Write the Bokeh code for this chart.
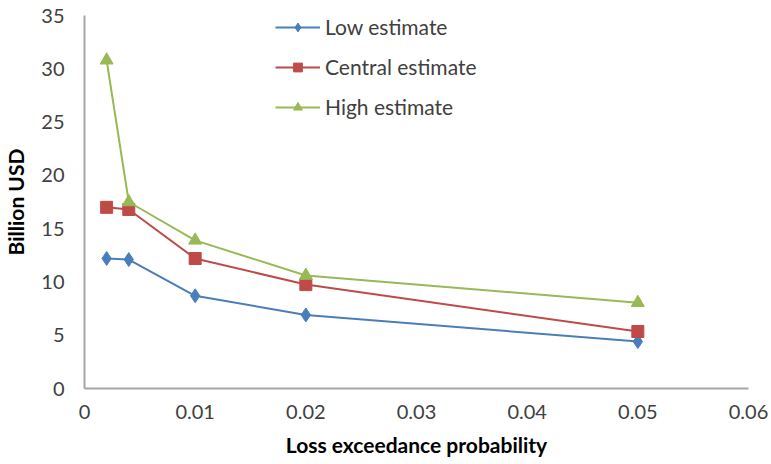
from bokeh.plotting import figure
from bokeh.models import Range1d, FixedTicker, Legend, LegendItem
from bokeh.embed import file_html
from bokeh.resources import INLINE

x_vals = [0.002, 0.004, 0.01, 0.02, 0.05]
low = [12.2, 12.1, 8.7, 6.9, 4.4]
central = [17.0, 16.8, 12.2, 9.75, 5.35]
high = [30.8, 17.5, 13.9, 10.6, 8.05]
series_names = ["Low estimate", "Central estimate", "High estimate"]
x_ticks = [0, 0.01, 0.02, 0.03, 0.04, 0.05, 0.06]
x_tick_labels = ["0", "0.01", "0.02", "0.03", "0.04", "0.05", "0.06"]
y_ticks = [0, 5, 10, 15, 20, 25, 30, 35]

BLUE = "#4A7EBB"
RED = "#BE4B48"
GREEN = "#98B954"
AXIS = "#A6A6A6"
TXT = "#404040"
FONT = "Lato"

p = figure(width=771, height=464, output_backend="svg", toolbar_location=None,
           x_range=Range1d(0, 0.06), y_range=Range1d(0, 35),
           min_border_left=83, min_border_right=23, min_border_top=15, min_border_bottom=76)
p.outline_line_color = None
p.xgrid.grid_line_color = None
p.ygrid.grid_line_color = None

l1 = p.line(x_vals, low, line_color=BLUE, line_width=2)
m1 = p.scatter(x_vals, low, marker="diamond", size=14, fill_color=BLUE, line_color=BLUE)
l2 = p.line(x_vals, central, line_color=RED, line_width=2)
m2 = p.scatter(x_vals, central, marker="square", size=12, fill_color=RED, line_color=RED)
l3 = p.line(x_vals, high, line_color=GREEN, line_width=2)
m3 = p.scatter(x_vals, high, marker="triangle", size=13, fill_color=GREEN, line_color=GREEN)

p.xaxis.ticker = FixedTicker(ticks=x_ticks)
p.xaxis.major_label_overrides = {t: s for t, s in zip(x_ticks, x_tick_labels)}
p.yaxis.ticker = FixedTicker(ticks=y_ticks)
for ax in (p.xaxis[0], p.yaxis[0]):
    ax.axis_line_color = AXIS
    ax.axis_line_width = 2
    ax.major_tick_line_color = None
    ax.minor_tick_line_color = None
    ax.major_label_text_font = FONT
    ax.major_label_text_font_size = "20px"
    ax.major_label_text_color = TXT
    ax.axis_label_text_font = FONT
    ax.axis_label_text_font_style = "bold"
    ax.axis_label_text_font_size = "21px"
    ax.axis_label_text_color = "#000000"
p.xaxis.major_label_standoff = 10
p.yaxis.major_label_standoff = 14
p.xaxis.axis_label = "Loss exceedance probability"
p.yaxis.axis_label = "Billion USD"
p.xaxis.axis_label_standoff = 10
p.yaxis.axis_label_standoff = 10

legend = Legend(items=[
    LegendItem(label=series_names[0], renderers=[l1, m1]),
    LegendItem(label=series_names[1], renderers=[l2, m2]),
    LegendItem(label=series_names[2], renderers=[l3, m3]),
], location=(191, 269))
legend.border_line_color = None
legend.background_fill_alpha = 0
legend.padding = 0
legend.margin = 0
legend.spacing = 15
legend.glyph_width = 45
legend.glyph_height = 22
legend.label_text_font = FONT
legend.label_text_font_size = "21px"
legend.label_text_color = TXT
legend.label_standoff = 5
p.add_layout(legend)

open("out.html", "w").write(file_html(p, INLINE))
